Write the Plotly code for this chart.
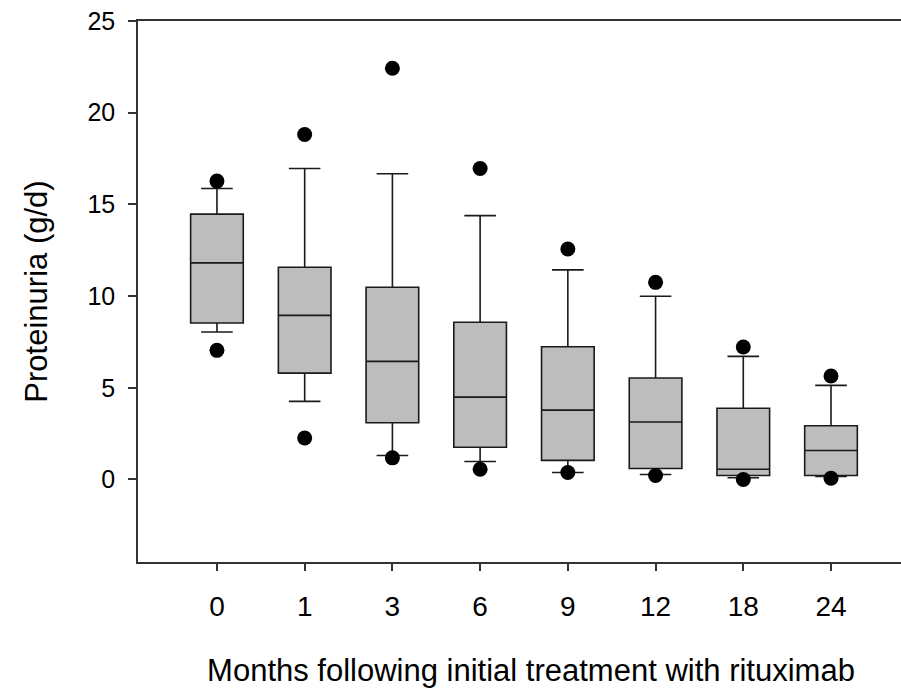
import plotly.graph_objects as go

months = ["0", "1", "3", "6", "9", "12", "18", "24"]
q1 = [8.53, 5.80, 3.09, 1.76, 1.04, 0.60, 0.22, 0.22]
medians = [11.81, 8.95, 6.44, 4.49, 3.78, 3.13, 0.56, 1.58]
q3 = [14.47, 11.57, 10.48, 8.57, 7.24, 5.53, 3.88, 2.93]
whisker_low = [8.04, 4.26, 1.31, 0.98, 0.38, 0.27, 0.09, 0.16]
whisker_high = [15.87, 16.96, 16.67, 14.39, 11.43, 9.99, 6.71, 5.13]
outlier_low = [7.04, 2.26, 1.18, 0.56, 0.38, 0.22, 0.00, 0.07]
outlier_high = [16.27, 18.81, 22.42, 16.96, 12.57, 10.75, 7.22, 5.64]

axis_col = "#333333"
font_name = "Liberation Sans, Arial, sans-serif"

fig = go.Figure()
fig.add_trace(go.Box(
    x=months, q1=q1, median=medians, q3=q3,
    lowerfence=whisker_low, upperfence=whisker_high,
    width=0.6, whiskerwidth=0.6,
    fillcolor="#bdbdbd", line=dict(color="#1a1a1a", width=1.6),
    boxpoints=False, showlegend=False,
))
# outliers (dots beyond the whiskers)
fig.add_trace(go.Scatter(
    x=months + months, y=outlier_low + outlier_high, mode="markers",
    marker=dict(color="black", size=15), showlegend=False,
))

# the original figure is cut off on the right, so the plot runs past the page edge
fig.update_layout(
    width=924, height=688,
    margin=dict(l=138, r=0, t=21, b=126),
    plot_bgcolor="white", paper_bgcolor="white",
    font=dict(family=font_name, color="black"),
)
fig.update_xaxes(
    type="category", range=[-0.9, 8.06],
    showline=True, linecolor=axis_col, linewidth=1.5, mirror=True,
    ticks="outside", ticklen=7, tickcolor=axis_col, tickwidth=1.5,
    showgrid=False, zeroline=False,
    tickfont=dict(size=28), ticklabelstandoff=12,
    title=dict(text="Months following initial treatment with rituximab",
               font=dict(size=31), standoff=40),
)
fig.update_yaxes(
    range=[-4.5, 25], tickvals=[0, 5, 10, 15, 20, 25],
    showline=True, linecolor=axis_col, linewidth=1.5,
    ticks="outside", ticklen=8, tickcolor=axis_col, tickwidth=1.5,
    showgrid=False, zeroline=False,
    tickfont=dict(size=25), ticklabelstandoff=8,
    title=dict(text="Proteinuria (g/d)", font=dict(size=31), standoff=31),
)

fig.write_html("out.html", config={"displayModeBar": False},
               post_script="document.body.style.margin='0';document.body.style.overflow='hidden';")
